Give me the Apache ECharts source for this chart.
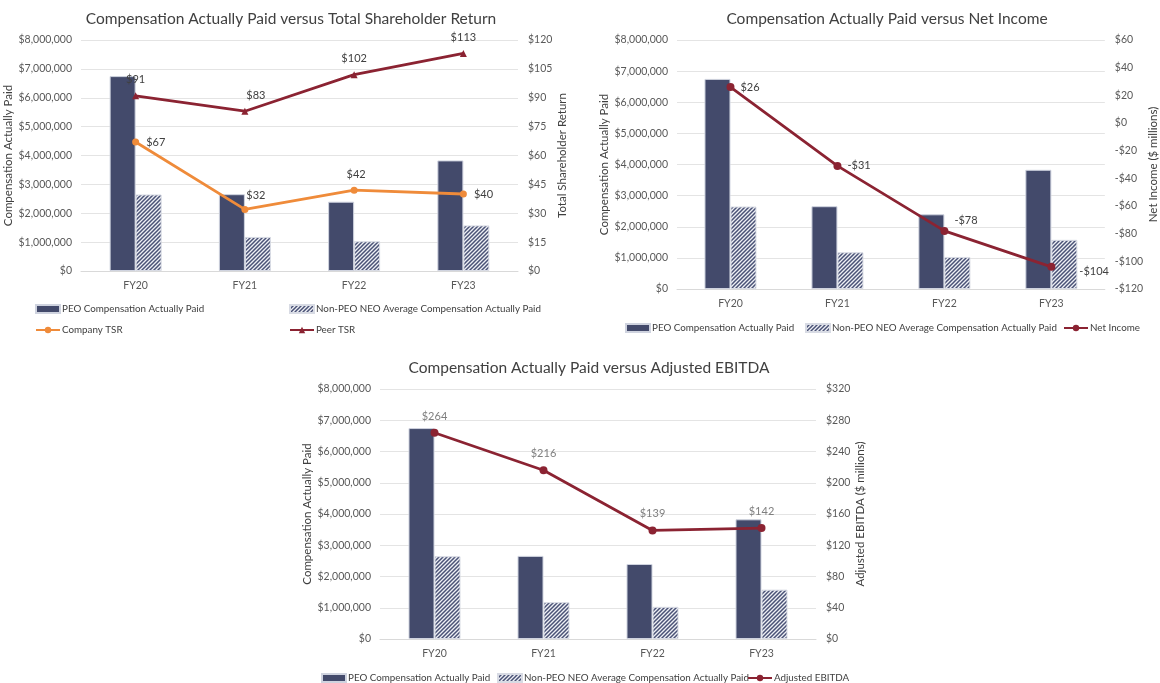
<!DOCTYPE html>
<html>
<head>
<meta charset="utf-8">
<script src="https://cdn.jsdelivr.net/npm/echarts@6/dist/echarts.min.js"></script>
<style>
  html, body { margin: 0; padding: 0; background: #ffffff; }
  #chart { width: 1160px; height: 683px; }
</style>
</head>
<body>
<div id="chart"></div>
<script>
// Fiscal years shown on every panel
const categories = ['FY20', 'FY21', 'FY22', 'FY23'];

// Compensation actually paid (dollars)
const peoPaid = [6750000, 2660000, 2400000, 3830000];
const neoAvgPaid = [2650000, 1180000, 1030000, 1580000];

// Performance measures
const companyTsr = [67, 32, 42, 40];
const peerTsr = [91, 83, 102, 113];
const netIncome = [26, -31, -78, -104];      // $ millions
const adjEbitda = [264, 216, 139, 142];      // $ millions

const NAVY = '#434a6b';
const RED = '#8b2332';
const ORANGE = '#ef8b3a';
const FONT = 'Lato, "Open Sans", sans-serif';
const TXT = '#404040';
const TICK = '#595959';

const PEO = 'PEO Compensation Actually Paid';
const NEO = 'Non-PEO NEO Average Compensation Actually Paid';

const money = v => '$' + Number(v).toLocaleString('en-US');
const signedMoney = v => (v < 0 ? '-$' + Math.abs(v) : '$' + v);

// small repeating tile of "/" stripes for the averaged bars
function hatchTile() {
  const c = document.createElement('canvas');
  const s = 4;
  c.width = s; c.height = s;
  const g = c.getContext('2d');
  g.fillStyle = '#eef0f5';
  g.fillRect(0, 0, s, s);
  g.strokeStyle = '#4a5276';
  g.lineWidth = 1.5;
  g.beginPath();
  g.moveTo(-1, s + 1); g.lineTo(s + 1, -1);
  g.moveTo(-1, 1); g.lineTo(1, -1);
  g.moveTo(s - 1, s + 1); g.lineTo(s + 1, s - 1);
  g.stroke();
  return c;
}
const HATCH = { image: hatchTile(), repeat: 'repeat' };

// grid boxes in pixels
const grids = [
  { left: 81, top: 40, width: 437, height: 231 },
  { left: 677, top: 40, width: 434, height: 249 },
  { left: 380, top: 389, width: 436, height: 250 }
];

function xAxisFor(i) {
  return {
    type: 'category', gridIndex: i, data: categories,
    axisTick: { show: false },
    axisLine: { lineStyle: { color: '#d9d9d9', width: 1 } },
    axisLabel: { color: TICK, fontFamily: FONT, fontSize: 10.5, margin: 9 }
  };
}

function leftAxisFor(i, gap) {
  return {
    type: 'value', gridIndex: i, position: 'left',
    min: 0, max: 8000000, interval: 1000000,
    name: 'Compensation Actually Paid', nameLocation: 'middle', nameRotate: 90, nameGap: gap,
    nameTextStyle: { color: TXT, fontFamily: FONT, fontSize: 11.5 },
    axisLine: { show: false }, axisTick: { show: false },
    axisLabel: { color: TICK, fontFamily: FONT, fontSize: 10.5, margin: 9, formatter: money },
    splitLine: { lineStyle: { color: '#e4e4e4', width: 1 } }
  };
}

function rightAxisFor(i, name, min, max, interval, fmt, gap) {
  return {
    type: 'value', gridIndex: i, position: 'right',
    min: min, max: max, interval: interval,
    name: name, nameLocation: 'middle', nameRotate: 90, nameGap: gap,
    nameTextStyle: { color: TXT, fontFamily: FONT, fontSize: 11.5 },
    axisLine: { show: false }, axisTick: { show: false },
    axisLabel: { color: TICK, fontFamily: FONT, fontSize: 10.5, margin: 10, formatter: fmt },
    splitLine: { show: false }
  };
}

function barPair(gi, yi) {
  return [
    {
      name: PEO, type: 'bar', xAxisIndex: gi, yAxisIndex: yi,
      barWidth: 26, barGap: '0%',
      itemStyle: { color: NAVY, borderColor: '#cfd3df', borderWidth: 1 },
      data: peoPaid
    },
    {
      name: NEO, type: 'bar', xAxisIndex: gi, yAxisIndex: yi,
      barWidth: 26, barGap: '0%',
      itemStyle: { color: HATCH, borderColor: '#d8dbe4', borderWidth: 1 },
      data: neoAvgPaid
    }
  ];
}

function labelled(values, fmt, base, tweaks) {
  return values.map((v, i) => {
    const t = (tweaks && tweaks[i]) || {};
    return { value: v, label: Object.assign({}, base, t, { formatter: fmt(v) }) };
  });
}

const labelText = { show: true, color: TXT, fontFamily: FONT, fontSize: 11 };

const series = [];
// Panel 1: TSR
series.push(...barPair(0, 0));
series.push({
  name: 'Company TSR', type: 'line', xAxisIndex: 0, yAxisIndex: 1,
  symbol: 'circle', symbolSize: 7,
  lineStyle: { color: ORANGE, width: 2.8 }, itemStyle: { color: ORANGE },
  data: labelled(companyTsr, v => '$' + v, Object.assign({}, labelText, { position: 'right', distance: 7 }), [
    {},
    { position: 'top', offset: [11, 2] },
    { position: 'top', offset: [2, 0] },
    {}
  ]),
  z: 5
});
series.push({
  name: 'Peer TSR', type: 'line', xAxisIndex: 0, yAxisIndex: 1,
  symbol: 'triangle', symbolSize: 7,
  lineStyle: { color: RED, width: 2.8 }, itemStyle: { color: RED },
  data: labelled(peerTsr, v => '$' + v, Object.assign({}, labelText, { position: 'top', distance: 7 }), [
    {},
    { offset: [11, 0] },
    {},
    {}
  ]),
  z: 5
});

// Panel 2: net income
series.push(...barPair(1, 2));
series.push({
  name: 'Net Income', type: 'line', xAxisIndex: 1, yAxisIndex: 3,
  symbol: 'circle', symbolSize: 8,
  lineStyle: { color: RED, width: 2.8 }, itemStyle: { color: RED },
  data: labelled(netIncome, signedMoney, Object.assign({}, labelText, { position: 'right', distance: 6 }), [
    {},
    {},
    { offset: [0, -10] },
    { offset: [18, 5] }
  ]),
  z: 5
});

// Panel 3: adjusted EBITDA
series.push(...barPair(2, 4));
series.push({
  name: 'Adjusted EBITDA', type: 'line', xAxisIndex: 2, yAxisIndex: 5,
  symbol: 'circle', symbolSize: 8,
  lineStyle: { color: RED, width: 2.8 }, itemStyle: { color: RED },
  data: labelled(adjEbitda, v => '$' + v, Object.assign({}, labelText, { position: 'top', distance: 7, color: '#7f7f7f' })),
  z: 5
});

// one legend entry per slot so each sits where its panel wants it
function legendAt(name, left, top, isBar) {
  return {
    data: [isBar ? { name: name, icon: 'rect' } : name],
    left: left, top: top,
    itemWidth: 24, itemHeight: 8, itemGap: 0,
    textStyle: { color: TXT, fontFamily: FONT, fontSize: 9.8, padding: [0, 0, 0, -3] },
    selectedMode: false, padding: 0
  };
}

const legends = [
  legendAt(PEO, 35, 304, true),
  legendAt(NEO, 289, 304, true),
  legendAt('Company TSR', 35, 325, false),
  legendAt('Peer TSR', 289, 325, false),
  legendAt(PEO, 625, 323, true),
  legendAt(NEO, 805, 323, true),
  legendAt('Net Income', 1063, 323, false),
  legendAt(PEO, 321, 673, true),
  legendAt(NEO, 497, 673, true),
  legendAt('Adjusted EBITDA', 747, 673, false)
];

const titleStyle = { color: TXT, fontFamily: FONT, fontSize: 15.5, fontWeight: 'normal' };

const option = {
  backgroundColor: '#ffffff',
  animation: false,
  title: [
    { text: 'Compensation Actually Paid versus Total Shareholder Return', left: 286, top: 6, textAlign: 'center', textStyle: titleStyle },
    { text: 'Compensation Actually Paid versus Net Income', left: 882, top: 6, textAlign: 'center', textStyle: titleStyle },
    { text: 'Compensation Actually Paid versus Adjusted EBITDA', left: 584, top: 355, textAlign: 'center', textStyle: titleStyle }
  ],
  legend: legends,
  grid: grids,
  xAxis: [xAxisFor(0), xAxisFor(1), xAxisFor(2)],
  yAxis: [
    leftAxisFor(0, 62),
    rightAxisFor(0, 'Total Shareholder Return', 0, 120, 15, v => '$' + v, 36),
    leftAxisFor(1, 64),
    rightAxisFor(1, 'Net Income ($ millions)', -120, 60, 20, signedMoney, 37),
    leftAxisFor(2, 65),
    rightAxisFor(2, 'Adjusted EBITDA ($ millions)', 0, 320, 40, v => '$' + v, 37)
  ],
  series: series
};

const chart = echarts.init(document.getElementById('chart'), null, { renderer: 'canvas' });
chart.setOption(option);
</script>
</body>
</html>
